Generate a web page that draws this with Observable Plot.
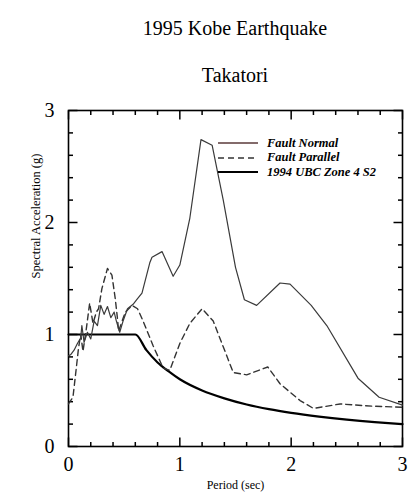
<!DOCTYPE html>
<html><head><meta charset="utf-8">
<script src="https://cdn.jsdelivr.net/npm/d3@7"></script>
<script src="https://cdn.jsdelivr.net/npm/@observablehq/plot@0.6"></script>
<style>
body{margin:0;background:#fff;}
#wrap{position:relative;width:412px;height:497px;font-family:"Liberation Serif","Times New Roman",serif;color:#000;}
.title{position:absolute;left:58px;width:354px;text-align:center;font-size:20px;line-height:24px;font-family:"Liberation Serif",serif;}
#legend{position:absolute;left:218px;top:136px;font-size:12.5px;font-weight:bold;font-style:italic;}
#legend .row{display:flex;align-items:center;height:14.5px;}
#legend svg{margin-right:9px;}
</style></head>
<body>
<div id="wrap">
  <div class="title" style="top:16px">1995 Kobe Earthquake</div>
  <div class="title" style="top:63px">Takatori</div>
  <div id="chart"></div>
  <div id="legend"></div>
</div>
<script>
// Period (sec) and spectral acceleration (g)
const faultNormalT = [0, 0.02, 0.05, 0.08, 0.11, 0.12, 0.14, 0.17, 0.2, 0.23, 0.26, 0.29, 0.32, 0.35, 0.38, 0.41, 0.43, 0.46, 0.49, 0.53, 0.58, 0.62, 0.66, 0.73, 0.75, 0.84, 0.94, 1.0, 1.09, 1.19, 1.29, 1.39, 1.5, 1.58, 1.69, 1.9, 1.99, 2.18, 2.32, 2.6, 2.79, 3.0];
const faultNormalSa = [0.81, 0.82, 0.86, 0.92, 0.97, 1.08, 0.93, 1.02, 0.96, 1.12, 1.08, 1.26, 1.18, 1.25, 1.15, 1.2, 1.12, 1.02, 1.12, 1.23, 1.27, 1.32, 1.37, 1.64, 1.69, 1.74, 1.52, 1.62, 2.04, 2.74, 2.69, 2.2, 1.6, 1.31, 1.26, 1.46, 1.45, 1.26, 1.08, 0.61, 0.44, 0.37];

const faultParallelT = [0, 0.04, 0.07, 0.09, 0.11, 0.13, 0.16, 0.19, 0.22, 0.25, 0.27, 0.3, 0.35, 0.39, 0.42, 0.44, 0.45, 0.51, 0.57, 0.62, 0.67, 0.76, 0.85, 0.91, 1.0, 1.09, 1.2, 1.3, 1.48, 1.6, 1.79, 1.9, 2.08, 2.2, 2.44, 2.73, 3.0];
const faultParallelSa = [0.38, 0.44, 0.7, 0.88, 1.0, 0.85, 1.05, 1.28, 1.1, 1.2, 1.23, 1.41, 1.59, 1.53, 1.32, 1.14, 1.03, 1.2, 1.26, 1.23, 1.12, 0.9, 0.7, 0.68, 0.92, 1.1, 1.23, 1.12, 0.66, 0.64, 0.71, 0.56, 0.41, 0.34, 0.38, 0.36, 0.35];

const ubcT = [0, 0.6, 0.7, 0.8, 0.9, 1.0, 1.2, 1.4, 1.6, 1.8, 2.0, 2.25, 2.5, 2.75, 3.0];
const ubcSa = [1.0, 1.0, 0.86, 0.75, 0.67, 0.6, 0.5, 0.43, 0.375, 0.333, 0.3, 0.267, 0.24, 0.218, 0.2];

const seriesNames = ["Fault Normal", "Fault Parallel", "1994 UBC Zone 4 S2"];
const majorTicks = [0, 1, 2, 3];
const minorTicks = [0.2, 0.4, 0.6, 0.8, 1.2, 1.4, 1.6, 1.8, 2.2, 2.4, 2.6, 2.8];
const xLabel = "Period (sec)";
const yLabel = "Spectral Acceleration (g)";

const fn = faultNormalT.map((t, i) => ({t, sa: faultNormalSa[i]}));
const fp = faultParallelT.map((t, i) => ({t, sa: faultParallelSa[i]}));
const ubc = ubcT.map((t, i) => ({t, sa: ubcSa[i]}));

const font = '"Liberation Serif", "Times New Roman", serif';
const W = 412, H = 497, ML = 68, MR = 10, MT = 110, MB = 51;
const innerW = W - ML - MR, innerH = H - MT - MB;
const dom = [0, 3];
const span = dom[1] - dom[0];
// inward tick lengths (px) converted to data units
const majX = span * 9 / innerH, minX = span * 4.5 / innerH;
const majY = span * 9 / innerW, minY = span * 4.5 / innerW;

const xTickRows = [
  ...majorTicks.map(v => ({v, a: dom[0], b: dom[0] + majX})),
  ...minorTicks.map(v => ({v, a: dom[0], b: dom[0] + minX})),
  ...majorTicks.map(v => ({v, a: dom[1], b: dom[1] - majX})),
  ...minorTicks.map(v => ({v, a: dom[1], b: dom[1] - minX}))
];
const yTickRows = [
  ...majorTicks.map(v => ({v, a: dom[0], b: dom[0] + majY})),
  ...minorTicks.map(v => ({v, a: dom[0], b: dom[0] + minY})),
  ...majorTicks.map(v => ({v, a: dom[1], b: dom[1] - majY})),
  ...minorTicks.map(v => ({v, a: dom[1], b: dom[1] - minY}))
];

const chart = Plot.plot({
  width: W,
  height: H,
  marginLeft: ML,
  marginRight: MR,
  marginTop: MT,
  marginBottom: MB,
  style: {fontFamily: font, background: "#fff", color: "#000"},
  x: {domain: dom},
  y: {domain: dom},
  marks: [
    Plot.axisX(majorTicks, {anchor: "bottom", tickSize: 0, tickPadding: 10, fontSize: 20, fontFamily: font, label: null, tickFormat: d => String(d)}),
    Plot.axisY(majorTicks, {anchor: "left", tickSize: 0, tickPadding: 14, fontSize: 20, fontFamily: font, label: null, tickFormat: d => String(d)}),
    Plot.link(xTickRows, {x1: "v", x2: "v", y1: "a", y2: "b", stroke: "#000", strokeWidth: 1.5}),
    Plot.link(yTickRows, {y1: "v", y2: "v", x1: "a", x2: "b", stroke: "#000", strokeWidth: 1.5}),
    Plot.frame({stroke: "#000", strokeWidth: 1.6}),
    Plot.line(ubc, {x: "t", y: "sa", stroke: "#000", strokeWidth: 2.2, curve: "monotone-x"}),
    Plot.line(fp, {x: "t", y: "sa", stroke: "#333", strokeWidth: 1.4, strokeDasharray: "6,4"}),
    Plot.line(fn, {x: "t", y: "sa", stroke: "#3a3a3a", strokeWidth: 1.2}),
    Plot.text([xLabel], {frameAnchor: "bottom", dy: 42, fontSize: 12, fontFamily: font, fill: "#000"}),
    Plot.text([yLabel], {frameAnchor: "left", dx: -33, rotate: -90, fontSize: 12.5, fontFamily: font, fill: "#000"})
  ]
});
document.getElementById("chart").appendChild(chart);

const legendStyles = [
  {stroke: "#5a3a3a", width: 1.3, dash: null},
  {stroke: "#333", width: 1.4, dash: "6,4"},
  {stroke: "#000", width: 2.2, dash: null}
];
const legend = document.getElementById("legend");
seriesNames.forEach((name, i) => {
  const s = legendStyles[i];
  const row = document.createElement("div");
  row.className = "row";
  row.innerHTML = `<svg width="40" height="8"><line x1="0" x2="40" y1="4" y2="4" stroke="${s.stroke}" stroke-width="${s.width}" ${s.dash ? `stroke-dasharray="${s.dash}"` : ""}/></svg><span>${name}</span>`;
  legend.appendChild(row);
});
</script>
</body></html>
